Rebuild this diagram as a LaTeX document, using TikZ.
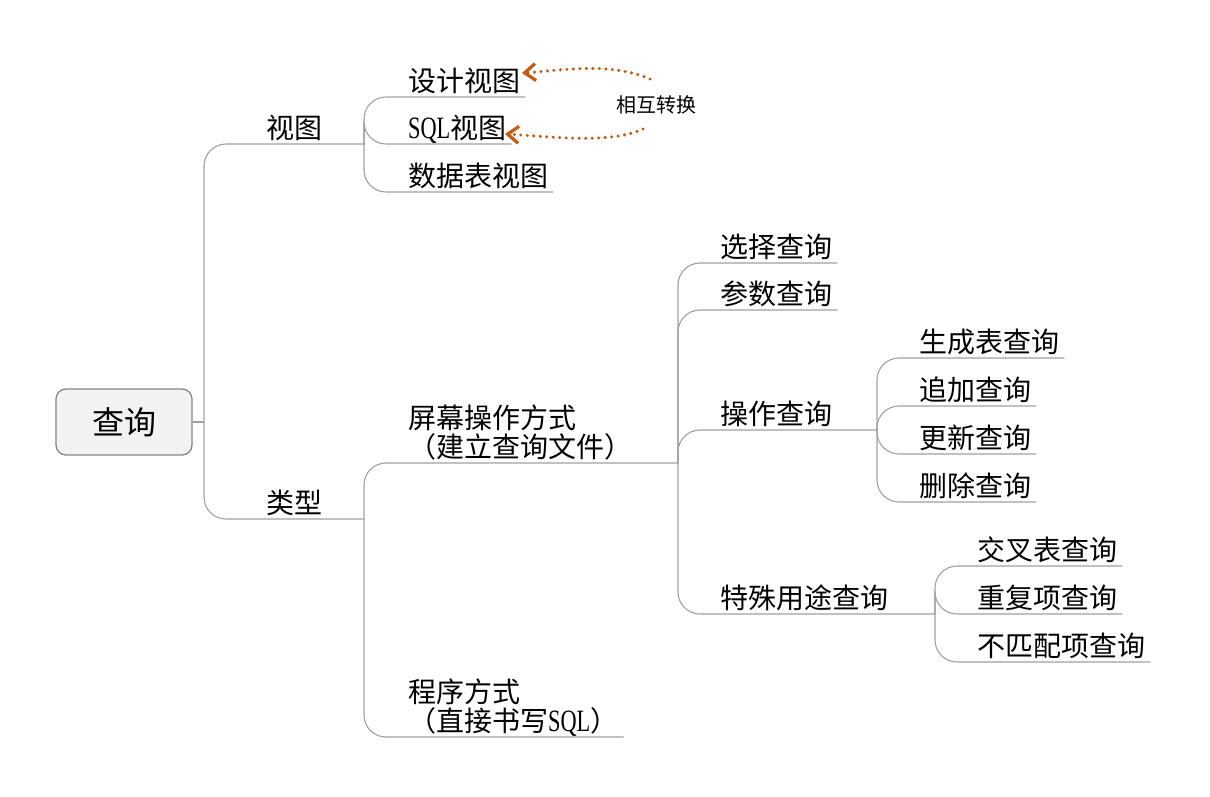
\documentclass[tikz,border=0pt]{standalone}
\usepackage{fontspec}
\usetikzlibrary{arrows.meta}
\newfontfamily\cjk{Noto Sans CJK SC}
\newfontfamily\latsq[FakeStretch=0.72]{Liberation Serif}
\definecolor{zhuanhuan}{RGB}{197,90,17}
\definecolor{zhixian}{RGB}{160,160,160}
\definecolor{kuangdi}{RGB}{242,242,242}
\definecolor{kuangbian}{RGB}{133,133,133}
\newcommand{\sqlzi}{{\latsq\fontsize{31}{29}\selectfont SQL}}
\begin{document}
\begin{tikzpicture}[x=1pt,y=-1pt,line join=round,
		zhi/.style={draw=zhixian,line width=1.1pt,rounded corners=22pt},
		ti/.style={font=\cjk\fontsize{28}{29}\selectfont,anchor=south west,inner xsep=5pt,inner ysep=5pt,text depth=0pt,align=left},
		hu/.style={draw=zhuanhuan,line width=3.4pt,dash pattern=on 0pt off 6.5pt,line cap=round,-{Straight Barb[length=11pt,width=17pt,line width=3.2pt]}}]
	\useasboundingbox (0,0) rectangle (1210,796);
	\node[draw=kuangbian,fill=kuangdi,rounded corners=10pt,line width=1.3pt,minimum width=136pt,minimum height=66pt,font=\cjk\fontsize{32}{32}\selectfont] (chaxun) at (124,422) {查询};
	\coordinate (j0) at (204,422);
	\coordinate (j1) at (364,144);
	\coordinate (j2) at (364,519);
	\coordinate (j3) at (678,463);
	\coordinate (j4) at (877,430);
	\coordinate (j5) at (935,614);
	\node[ti] (st) at (261,144) {视图};
	\node[ti] (lx) at (261,519) {类型};
	\node[ti] (sj) at (403,97) {设计视图};
	\node[ti] (sq) at (403,144) {\sqlzi 视图};
	\node[ti] (sb) at (403,192) {数据表视图};
	\node[ti] (pm) at (403,463) {屏幕操作方式\\（建立查询文件）};
	\node[ti] (cf) at (403,737) {程序方式\\（直接书写\sqlzi）};
	\node[ti] (xz) at (715,263) {选择查询};
	\node[ti] (cs) at (715,310) {参数查询};
	\node[ti] (cz) at (715,430) {操作查询};
	\node[ti] (ts) at (715,614) {特殊用途查询};
	\node[ti] (sc) at (914,358) {生成表查询};
	\node[ti] (zj) at (914,406) {追加查询};
	\node[ti] (gx) at (914,454) {更新查询};
	\node[ti] (sch) at (914,502) {删除查询};
	\node[ti] (jc) at (972,566) {交叉表查询};
	\node[ti] (cfx) at (972,614) {重复项查询};
	\node[ti] (bp) at (972,662) {不匹配项查询};
	\draw[zhi] (chaxun.east) -- (j0);
	\draw[zhi] (j0) |- (j1);
	\draw[zhi] (j0) |- (j2);
	\draw[zhi] (j1) |- (sj.south east);
	\draw[zhi] (j1) |- (sq.south east);
	\draw[zhi] (j1) |- (sb.south east);
	\draw[zhi] (j2) |- (j3);
	\draw[zhi] (j2) |- (cf.south east);
	\draw[zhi] (j3) |- (xz.south east);
	\draw[zhi] (j3) |- (cs.south east);
	\draw[zhi] (j3) |- (j4);
	\draw[zhi] (j3) |- (j5);
	\draw[zhi] (j4) |- (sc.south east);
	\draw[zhi] (j4) |- (zj.south east);
	\draw[zhi] (j4) |- (gx.south east);
	\draw[zhi] (j4) |- (sch.south east);
	\draw[zhi] (j5) |- (jc.south east);
	\draw[zhi] (j5) |- (cfx.south east);
	\draw[zhi] (j5) |- (bp.south east);
	\node[font=\cjk\fontsize{20}{20}\selectfont] (hz) at (656,105) {相互转换};
	\coordinate (h1) at (650,79);
	\coordinate (h1e) at (522,73);
	\coordinate (h2) at (643,129);
	\coordinate (h2e) at (505,134);
	\draw[hu] (h1) .. controls (610,62) and (565,70) .. (h1e);
	\draw[hu] (h2) .. controls (610,144) and (555,137) .. (h2e);
\end{tikzpicture}
\end{document}
